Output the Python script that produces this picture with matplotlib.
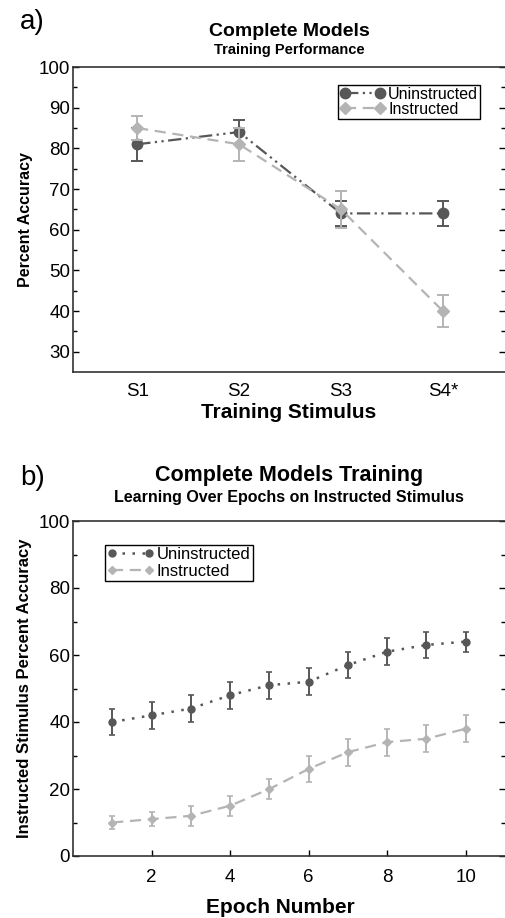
import matplotlib
matplotlib.use('Agg')
import matplotlib.pyplot as plt

plt.rcParams['font.family'] = ['Liberation Sans', 'DejaVu Sans']

# Panel a: training performance per stimulus
stimuli = ['S1', 'S2', 'S3', 'S4*']
uninstr_acc = [81, 84, 64, 64]
uninstr_err = [4, 3, 3, 3]
instr_acc = [85, 81, 65, 40]
instr_err = [3, 4, 4.5, 4]

# Panel b: learning over epochs on instructed stimulus
epochs = [1, 2, 3, 4, 5, 6, 7, 8, 9, 10]
uninstr_epoch_acc = [40, 42, 44, 48, 51, 52, 57, 61, 63, 64]
uninstr_epoch_err = [4, 4, 4, 4, 4, 4, 4, 4, 4, 3]
instr_epoch_acc = [10, 11, 12, 15, 20, 26, 31, 34, 35, 38]
instr_epoch_err = [2, 2, 3, 3, 3, 4, 4, 4, 4, 4]

dark = '#575757'
light = '#b4b4b4'

W, H = 505, 918
fig = plt.figure(figsize=(W / 100, H / 100), dpi=100)


def style_axes(ax):
    ax.spines['right'].set_visible(False)
    for s in ['left', 'top', 'bottom']:
        ax.spines[s].set_linewidth(1.2)
        ax.spines[s].set_color('#333333')
    ax.tick_params(axis='y', which='both', direction='in', left=True, right=True,
                   labelsize=13.5, length=4, width=1, pad=2)
    ax.tick_params(axis='y', which='minor', length=3)


def add_legend(ax, lines, anchor, loc, size, spacing):
    leg = ax.legend(handles=[ln[0] for ln in lines], labels=['Uninstructed', 'Instructed'],
                    loc=loc, bbox_to_anchor=anchor, numpoints=2, fontsize=size,
                    frameon=True, fancybox=False, framealpha=1, edgecolor='black',
                    borderaxespad=0, handlelength=2.8, handletextpad=0.2,
                    borderpad=0.12, labelspacing=spacing)
    leg.get_frame().set_linewidth(1.0)
    return leg


# ---- panel a ----
ax1 = fig.add_axes([73 / W, 1 - 372 / H, (W - 73) / W, 305 / H])
x = list(range(1, len(stimuli) + 1))
e1 = ax1.errorbar(x, uninstr_acc, yerr=uninstr_err, color=dark,
                  linestyle=(0, (6, 2, 1, 2, 1, 2)), linewidth=1.6, marker='o',
                  markersize=7.5, capsize=4, elinewidth=1.4, capthick=1.4, zorder=3)
e2 = ax1.errorbar(x, instr_acc, yerr=instr_err, color=light, linestyle=(0, (5, 3)),
                  linewidth=1.6, marker='D', markersize=6, capsize=4, elinewidth=1.4,
                  capthick=1.4, zorder=4)
ax1.set_xlim(0.37, 4.61)
ax1.set_ylim(25, 100)
ax1.set_xticks(x)
ax1.set_xticklabels(stimuli, fontsize=13.5)
ax1.tick_params(axis='x', length=0, pad=8)
ax1.set_yticks(range(30, 101, 10))
ax1.set_yticks(range(35, 100, 10), minor=True)
style_axes(ax1)
ax1.set_xlabel('Training Stimulus', fontsize=15, fontweight='bold', labelpad=2)
ax1.set_ylabel('Percent Accuracy', fontsize=11.5, fontweight='bold', labelpad=4)
add_legend(ax1, [e1, e2], (0.942, 0.941), 'upper right', 11.5, 0.0)

fig.text(20 / W, 1 - 22 / H, 'a)', fontsize=20, ha='left', va='center')
fig.text(289 / W, 1 - 31 / H, 'Complete Models', fontsize=14, fontweight='bold',
         ha='center', va='center')
fig.text(289 / W, 1 - 50 / H, 'Training Performance', fontsize=10.5, fontweight='bold',
         ha='center', va='center')

# ---- panel b ----
ax2 = fig.add_axes([73 / W, 1 - 856 / H, (W - 73) / W, 335 / H])
e3 = ax2.errorbar(epochs, uninstr_epoch_acc, yerr=uninstr_epoch_err, color=dark,
                  linestyle=(0, (1, 3)), linewidth=1.8, marker='o', markersize=5,
                  capsize=2.5, elinewidth=1.4, capthick=1.2, zorder=3)
e4 = ax2.errorbar(epochs, instr_epoch_acc, yerr=instr_epoch_err, color=light,
                  linestyle=(0, (5, 3)), linewidth=1.6, marker='D', markersize=4,
                  capsize=2.5, elinewidth=1.4, capthick=1.2, zorder=4)
ax2.set_xlim(0, 11)
ax2.set_ylim(0, 100)
ax2.set_xticks([2, 4, 6, 8, 10])
ax2.tick_params(axis='x', direction='in', length=4, width=1, labelsize=13.5, pad=9)
ax2.set_yticks(range(0, 101, 20))
ax2.set_yticks(range(10, 100, 20), minor=True)
style_axes(ax2)
ax2.set_xlabel('Epoch Number', fontsize=15, fontweight='bold', labelpad=9)
ax2.xaxis.label.set_x(0.48)
ax2.set_ylabel('Instructed Stimulus Percent Accuracy', fontsize=12, fontweight='bold',
               labelpad=5)
add_legend(ax2, [e3, e4], (0.074, 0.928), 'upper left', 12, 0.1)

fig.text(20 / W, 1 - 478 / H, 'b)', fontsize=20, ha='left', va='center')
fig.text(289 / W, 1 - 475 / H, 'Complete Models Training', fontsize=15.5,
         fontweight='bold', ha='center', va='center')
fig.text(289 / W, 1 - 498 / H, 'Learning Over Epochs on Instructed Stimulus',
         fontsize=11.5, fontweight='bold', ha='center', va='center')

fig.savefig('out.png', dpi=100)
plt.close(fig)
